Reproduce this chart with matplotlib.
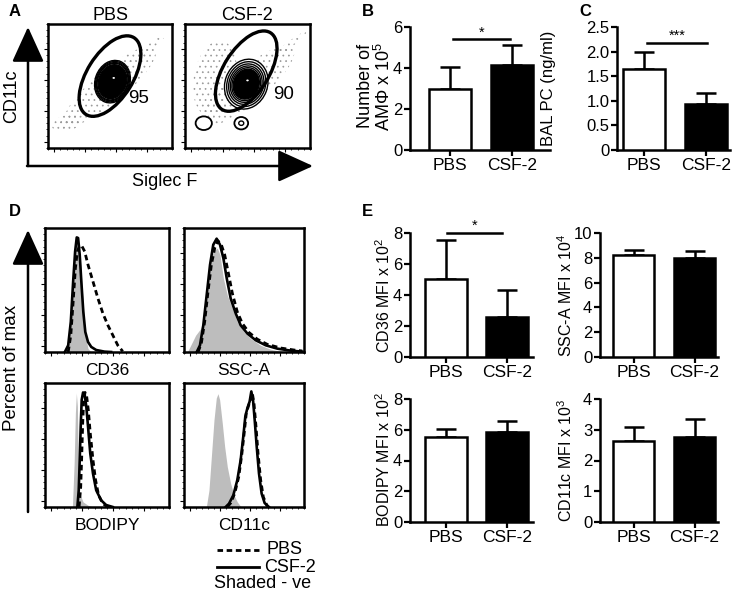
import numpy as np
import matplotlib
matplotlib.use("Agg")
import matplotlib.pyplot as plt
from matplotlib.patches import Ellipse

plt.rcParams['font.family'] = ['Liberation Sans', 'DejaVu Sans']
plt.rcParams['mathtext.fontset'] = 'custom'
plt.rcParams['mathtext.rm'] = 'Liberation Sans'
plt.rcParams['hatch.linewidth'] = 0.5

# ---------------- data ----------------
groups = ["PBS", "CSF-2"]

# B: number of AM (x10^5)
b_mean = [3.0, 4.15]
b_err = [1.05, 0.95]
# C: BAL PC (ng/ml)
c_mean = [1.65, 0.93]
c_err = [0.35, 0.22]
# E panels
cd36_mean = [5.05, 2.55]
cd36_err = [2.5, 1.75]
ssc_mean = [8.2, 8.0]
ssc_err = [0.4, 0.55]
bodipy_mean = [5.5, 5.85]
bodipy_err = [0.55, 0.75]
cd11c_mean = [2.65, 2.75]
cd11c_err = [0.45, 0.6]

# A: flow gates (cx, cy, w, h, angle) in box fraction
pbs_gate = (0.50, 0.58, 0.37, 0.73, -32)
csf_gate = (0.49, 0.62, 0.36, 0.73, -32)
pbs_gate_pct = "95"
csf_gate_pct = "90"
# contour rings (cx, cy, w, h, angle) and ring scales
pbs_core = (0.52, 0.535, 0.28, 0.35, -20)
pbs_rings = [1.0, 0.95, 0.9, 0.86]
csf_core = (0.49, 0.515, 0.34, 0.41, -20)
csf_rings = [1.0, 0.9, 0.81, 0.73, 0.66]
csf_small = [(0.15, 0.20, 0.13, 0.11, 0), (0.45, 0.20, 0.11, 0.10, 0)]
csf_small_inner = [(0.45, 0.20, 0.04, 0.035, 0)]
# dotted background clouds (cx, cy, w, h, angle)
pbs_cloud = [(0.50, 0.50, 0.26, 0.95, -50), (0.15, 0.20, 0.24, 0.13, 15),
             (0.15, 0.20, 0.13, 0.07, 15), (0.80, 0.80, 0.05, 0.38, -52)]
csf_cloud = [(0.24, 0.56, 0.34, 0.62, -10), (0.50, 0.50, 0.28, 0.95, -50),
             (0.82, 0.82, 0.05, 0.38, -52)]

# D: histograms (x fraction of box, y fraction of max)
cd36_neg_x = [0.173, 0.2, 0.219, 0.235, 0.248, 0.261, 0.272, 0.288, 0.307, 0.325, 0.347, 0.373]
cd36_neg_y = [0, 0.108, 0.351, 0.622, 0.838, 0.905, 0.865, 0.703, 0.405, 0.135, 0.027, 0]
cd36_csf_x = [0.16, 0.187, 0.208, 0.227, 0.243, 0.256, 0.267, 0.28, 0.293, 0.309, 0.325, 0.347, 0.373, 0.413, 0.48, 0.533]
cd36_csf_y = [0, 0.054, 0.243, 0.568, 0.811, 0.924, 0.919, 0.784, 0.568, 0.324, 0.162, 0.081, 0.041, 0.016, 0.003, 0]
cd36_pbs_x = [0.187, 0.208, 0.227, 0.245, 0.261, 0.28, 0.299, 0.32, 0.347, 0.387, 0.427, 0.467, 0.507, 0.547, 0.587, 0.627]
cd36_pbs_y = [0, 0.135, 0.405, 0.676, 0.811, 0.859, 0.851, 0.811, 0.703, 0.568, 0.432, 0.311, 0.216, 0.135, 0.054, 0.005]

ssc_neg_x = [0.028, 0.056, 0.097, 0.139, 0.172, 0.194, 0.217, 0.236, 0.256, 0.278, 0.3, 0.328, 0.361, 0.403, 0.444, 0.5, 0.556, 0.639, 0.722, 0.806, 0.861]
ssc_neg_y = [0, 0.054, 0.135, 0.189, 0.27, 0.432, 0.649, 0.784, 0.824, 0.838, 0.784, 0.595, 0.459, 0.351, 0.243, 0.162, 0.108, 0.054, 0.022, 0.005, 0]
ssc_csf_x = [0.106, 0.133, 0.161, 0.189, 0.217, 0.244, 0.272, 0.3, 0.328, 0.356, 0.389, 0.431, 0.472, 0.528, 0.597, 0.681, 0.778, 0.889, 0.986]
ssc_csf_y = [0, 0.054, 0.216, 0.459, 0.703, 0.865, 0.914, 0.865, 0.757, 0.595, 0.432, 0.311, 0.216, 0.149, 0.095, 0.054, 0.027, 0.011, 0.003]
ssc_pbs_x = [0.117, 0.144, 0.172, 0.2, 0.228, 0.256, 0.283, 0.311, 0.339, 0.367, 0.403, 0.444, 0.486, 0.542, 0.611, 0.694, 0.806, 0.917, 0.986]
ssc_pbs_y = [0, 0.068, 0.243, 0.486, 0.703, 0.838, 0.897, 0.865, 0.784, 0.649, 0.473, 0.324, 0.23, 0.157, 0.103, 0.062, 0.032, 0.016, 0.008]

bod_neg_x = [0.221, 0.235, 0.245, 0.253, 0.261, 0.269, 0.28, 0.307, 0.347, 0.387]
bod_neg_y = [0, 0.351, 0.757, 0.919, 0.811, 0.351, 0.108, 0.041, 0.014, 0]
bod_csf_x = [0.261, 0.272, 0.28, 0.288, 0.296, 0.307, 0.32, 0.333, 0.347, 0.365, 0.387, 0.413, 0.453, 0.493, 0.547]
bod_csf_y = [0, 0.135, 0.378, 0.649, 0.865, 0.924, 0.905, 0.811, 0.649, 0.432, 0.27, 0.135, 0.054, 0.016, 0]
bod_pbs_x = [0.275, 0.288, 0.296, 0.304, 0.312, 0.323, 0.336, 0.349, 0.365, 0.387, 0.408, 0.432, 0.467, 0.507]
bod_pbs_y = [0, 0.162, 0.405, 0.676, 0.865, 0.924, 0.892, 0.784, 0.595, 0.378, 0.216, 0.095, 0.027, 0]

c11_neg_x = [0.186, 0.208, 0.228, 0.25, 0.269, 0.283, 0.297, 0.319, 0.339, 0.361, 0.389, 0.417, 0.444, 0.472, 0.5]
c11_neg_y = [0, 0.135, 0.405, 0.703, 0.878, 0.914, 0.865, 0.676, 0.486, 0.324, 0.189, 0.095, 0.041, 0.005, 0]
c11_csf_x = [0.347, 0.375, 0.411, 0.444, 0.472, 0.494, 0.511, 0.528, 0.547, 0.561, 0.575, 0.589, 0.606, 0.625, 0.647, 0.672, 0.708]
c11_csf_y = [0, 0.027, 0.095, 0.216, 0.378, 0.568, 0.73, 0.797, 0.851, 0.932, 0.865, 0.703, 0.486, 0.27, 0.108, 0.032, 0]
c11_pbs_x = [0.361, 0.389, 0.422, 0.456, 0.481, 0.503, 0.519, 0.536, 0.556, 0.569, 0.583, 0.6, 0.617, 0.639, 0.661, 0.694]
c11_pbs_y = [0, 0.032, 0.108, 0.243, 0.419, 0.608, 0.757, 0.811, 0.87, 0.919, 0.838, 0.649, 0.432, 0.216, 0.081, 0.005]

# ---------------- layout helpers ----------------
W, H = 740, 592
fig = plt.figure(figsize=(W / 100, H / 100), dpi=100)


def rect(x0, y0, x1, y1):
    return [x0 / W, 1 - y1 / H, (x1 - x0) / W, (y1 - y0) / H]


def ftxt(x, y, s, **kw):
    fig.text(x / W, 1 - y / H, s, **kw)


FS_LAB = 13      # flow / histogram labels
FS_XT = 12.5     # bar x tick labels
FS_YT = 12       # bar y tick labels
FS_YL = 11.5     # bar y labels

# overlay for arrows
ov = fig.add_axes([0, 0, 1, 1], zorder=0)
ov.set_xlim(0, W)
ov.set_ylim(H, 0)
ov.axis('off')
ap = dict(arrowstyle='-|>,head_length=1.1,head_width=0.5', lw=1.8, color='k',
          mutation_scale=20, shrinkA=0, shrinkB=0)
ov.annotate('', xy=(28, 27), xytext=(28, 166), arrowprops=ap)
ov.annotate('', xy=(313, 166), xytext=(27, 166), arrowprops=ap)
ov.annotate('', xy=(28, 230), xytext=(28, 512), arrowprops=ap)

# panel letters
for (x, y, s) in [(9, 12, 'A'), (362, 12, 'B'), (579, 12, 'C'), (9, 212, 'D'), (362, 212, 'E')]:
    ftxt(x, y, s, fontsize=12, fontweight='bold', va='center', ha='left')


def box_ticks(ax):
    ax.set_xlim(0, 1)
    ax.set_ylim(0, 1)
    for s in ax.spines.values():
        s.set_linewidth(1.8)
    ax.set_xticks([0.05, 0.3, 0.55, 0.8])
    ax.set_yticks([0.05, 0.3, 0.55, 0.8])
    ax.set_xticks(np.linspace(0.0, 1.0, 21), minor=True)
    ax.set_yticks(np.linspace(0.0, 1.0, 21), minor=True)
    ax.tick_params(which='major', length=3, width=0.8, labelbottom=False, labelleft=False)
    ax.tick_params(which='minor', length=1.5, width=0.6)


def ell(ax, p, scale=1.0, **kw):
    cx, cy, w, h, a = p
    e = Ellipse((cx, cy), w * scale, h * scale, angle=a, **kw)
    ax.add_patch(e)
    return e


def flow(ax, gate, core, rings, cloud, pct, pct_xy, fill_scale, small=(), small_inner=()):
    box_ticks(ax)
    for i, c in enumerate(cloud):
        ell(ax, c, facecolor='none', edgecolor='0.6', hatch='...', lw=0, zorder=1)
    for sm in small:
        ell(ax, sm, facecolor='white', edgecolor='k', lw=1.3, zorder=3)
    for sm in small_inner:
        ell(ax, sm, facecolor='white', edgecolor='k', lw=1.0, zorder=4)
    for r in rings:
        ell(ax, core, r, facecolor='white' if r == rings[0] else 'none',
            edgecolor='k', lw=1.0, zorder=3)
    ell(ax, core, fill_scale, facecolor='k', edgecolor='k', lw=1, zorder=4)
    ell(ax, (core[0] + 0.01, core[1] + 0.03, 0.02, 0.015, 0), facecolor='white', lw=0, zorder=5)
    ell(ax, gate, facecolor='none', edgecolor='k', lw=2.4, zorder=6)
    ax.text(pct_xy[0], pct_xy[1], pct, fontsize=13.5, ha='center', va='center', zorder=7)


axA1 = fig.add_axes(rect(48, 24, 172, 148), zorder=2)
flow(axA1, pbs_gate, pbs_core, pbs_rings, pbs_cloud, pbs_gate_pct, (0.73, 0.40), 0.8)
axA1.set_title('PBS', fontsize=FS_LAB, pad=2)
axA2 = fig.add_axes(rect(185, 24, 310, 148), zorder=2)
flow(axA2, csf_gate, csf_core, csf_rings, csf_cloud, csf_gate_pct, (0.79, 0.43), 0.6,
     csf_small, csf_small_inner)
axA2.set_title('CSF-2', fontsize=FS_LAB, pad=2)
ftxt(12, 96, 'CD11c', fontsize=FS_LAB, rotation=90, ha='center', va='center')
ftxt(165, 182, 'Siglec F', fontsize=FS_LAB, ha='center', va='center')


# D histograms
def hist(ax, neg, csf, pbs, label):
    box_ticks(ax)
    ax.set_ylim(0, 1.0)
    ax.fill_between(neg[0], neg[1], color='#bdbdbd', lw=0, zorder=1)
    ax.plot(csf[0], csf[1], color='k', lw=1.9, zorder=3)
    ax.plot(pbs[0], pbs[1], color='k', lw=2.0, ls=(0, (2.0, 1.3)), zorder=4)
    ax.set_xlabel(label, fontsize=12.5, labelpad=3)


axD1 = fig.add_axes(rect(45, 228, 169, 352), zorder=2)
hist(axD1, (cd36_neg_x, cd36_neg_y), (cd36_csf_x, cd36_csf_y), (cd36_pbs_x, cd36_pbs_y), 'CD36')
axD2 = fig.add_axes(rect(184, 228, 304, 352), zorder=2)
hist(axD2, (ssc_neg_x, ssc_neg_y), (ssc_csf_x, ssc_csf_y), (ssc_pbs_x, ssc_pbs_y), 'SSC-A')
axD3 = fig.add_axes(rect(45, 383, 169, 507), zorder=2)
hist(axD3, (bod_neg_x, bod_neg_y), (bod_csf_x, bod_csf_y), (bod_pbs_x, bod_pbs_y), 'BODIPY')
axD4 = fig.add_axes(rect(184, 383, 304, 507), zorder=2)
hist(axD4, (c11_neg_x, c11_neg_y), (c11_csf_x, c11_csf_y), (c11_pbs_x, c11_pbs_y), 'CD11c')
ftxt(12, 368, 'Percent of max', fontsize=13.5, rotation=90, ha='center', va='center')

# legend
ov.plot([217, 259], [550, 550], color='k', lw=2.0, ls=(0, (2.0, 1.3)))
ov.plot([217, 259], [567, 567], color='k', lw=2.0)
ftxt(267, 550, 'PBS', fontsize=FS_LAB, va='center', ha='left')
ftxt(264, 567, 'CSF-2', fontsize=FS_LAB, va='center', ha='left')
ftxt(214, 583, 'Shaded - ve', fontsize=FS_LAB, va='center', ha='left')


# bar panels
def bars(ax, mean, err, top, ticks, xlim, sig=None):
    x = np.arange(len(groups))
    ax.errorbar(x, mean, yerr=[[0] * len(mean), err], fmt='none', ecolor='k',
                elinewidth=1.8, capsize=7.5, capthick=1.8, zorder=2)
    ax.bar(x, mean, width=0.68, color=['white', 'black'], edgecolor='black', linewidth=1.8, zorder=3)
    ax.set_xlim(*xlim)
    ax.set_ylim(0, top)
    ax.set_yticks(ticks)
    ax.set_xticks(x)
    ax.set_xticklabels(groups)
    for s in ['top', 'right']:
        ax.spines[s].set_visible(False)
    for s in ['left', 'bottom']:
        ax.spines[s].set_linewidth(1.8)
    ax.tick_params(length=4, width=1.6, pad=1.5)
    ax.tick_params(axis='x', labelsize=FS_XT)
    ax.tick_params(axis='y', labelsize=FS_YT)
    if sig is not None:
        x0, x1, y, s = sig
        ax.plot([x0, x1], [y, y], color='k', lw=1.8, clip_on=False)
        ax.text((x0 + x1) / 2, y, s, ha='center', va='bottom', fontsize=10.5)


axB = fig.add_axes(rect(410, 27, 550, 150), zorder=2)
bars(axB, b_mean, b_err, 6, [0, 2, 4, 6], (-0.645, 1.61), (0.05, 0.97, 5.4, '*'))
ftxt(366, 86, 'Number of', fontsize=13, rotation=90, ha='center', va='center')
ftxt(384, 86, r'AMΦ x 10$^{5}$', fontsize=13, rotation=90, ha='center', va='center')

axC = fig.add_axes(rect(617, 27, 730, 150), zorder=2)
bars(axC, c_mean, c_err, 2.5, [0, 0.5, 1.0, 1.5, 2.0, 2.5], (-0.44, 1.39), (0.05, 1.02, 2.17, '***'))
axC.set_yticklabels(['0', '0.5', '1.0', '1.5', '2.0', '2.5'])
ftxt(548, 88, 'BAL PC (ng/ml)', fontsize=12, rotation=90, ha='center', va='center')

axE1 = fig.add_axes(rect(410, 233, 533, 357), zorder=2)
bars(axE1, cd36_mean, cd36_err, 8, [0, 2, 4, 6, 8], (-0.58, 1.42), (0.02, 0.92, 8.0, '*'))
ftxt(384, 295, r'CD36 MFI x 10$^{2}$', fontsize=FS_YL, rotation=90, ha='center', va='center')

axE2 = fig.add_axes(rect(600, 233, 718, 357), zorder=2)
bars(axE2, ssc_mean, ssc_err, 10, [0, 2, 4, 6, 8, 10], (-0.55, 1.385))
ftxt(566, 295, r'SSC-A MFI x 10$^{4}$', fontsize=FS_YL, rotation=90, ha='center', va='center')

axE3 = fig.add_axes(rect(410, 399, 533, 522), zorder=2)
bars(axE3, bodipy_mean, bodipy_err, 8, [0, 2, 4, 6, 8], (-0.58, 1.42))
ftxt(384, 460, r'BODIPY MFI x 10$^{2}$', fontsize=FS_YL, rotation=90, ha='center', va='center')

axE4 = fig.add_axes(rect(600, 399, 718, 522), zorder=2)
bars(axE4, cd11c_mean, cd11c_err, 4, [0, 1, 2, 3, 4], (-0.55, 1.385))
ftxt(566, 460, r'CD11c MFI x 10$^{3}$', fontsize=FS_YL, rotation=90, ha='center', va='center')

fig.savefig('out.png', dpi=100)
